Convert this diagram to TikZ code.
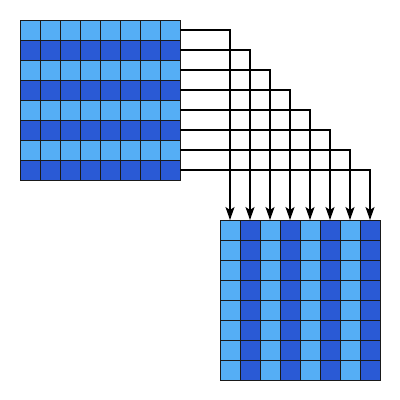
\documentclass[tikz,border=0pt]{standalone}
\usetikzlibrary{arrows.meta}
\definecolor{lightb}{HTML}{55AEF5}
\definecolor{darkb}{HTML}{2A5AD5}
\definecolor{gridline}{HTML}{1A1A1A}
\begin{document}
\begin{tikzpicture}[x=1pt,y=-1pt,
  cell/.style={draw=gridline,line width=0.9pt,minimum size=20pt,inner sep=0pt,outer sep=0pt},
  conn/.style={draw=black,line width=1.6pt,-{Stealth[length=13pt,width=9pt,inset=3pt]}}]
\useasboundingbox (0,0) rectangle (400,400);
\foreach \r in {0,...,7}{
  \foreach \c in {0,...,7}{
    \pgfmathsetmacro{\isdark}{mod(\r,2)}
    \ifdim\isdark pt>0.5pt
      \node[cell,fill=darkb] (A-\r-\c) at (30+20*\c,30+20*\r) {};
    \else
      \node[cell,fill=lightb] (A-\r-\c) at (30+20*\c,30+20*\r) {};
    \fi
    \pgfmathsetmacro{\isdarkc}{mod(\c,2)}
    \ifdim\isdarkc pt>0.5pt
      \node[cell,fill=darkb] (B-\r-\c) at (230+20*\c,230+20*\r) {};
    \else
      \node[cell,fill=lightb] (B-\r-\c) at (230+20*\c,230+20*\r) {};
    \fi
  }
}
\foreach \i in {0,...,7}{
  \draw[conn] (A-\i-7.east) -| (B-0-\i.north);
}
\end{tikzpicture}
\end{document}
